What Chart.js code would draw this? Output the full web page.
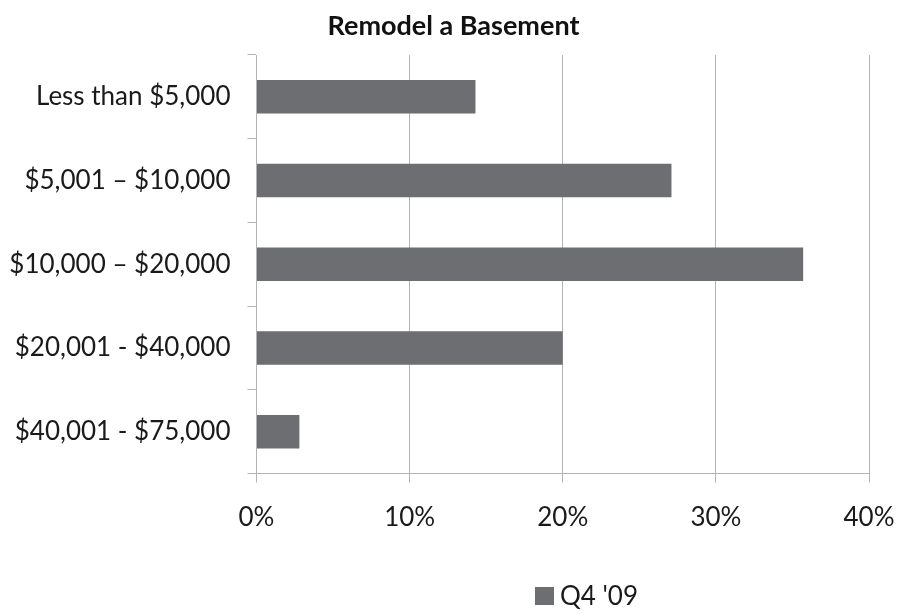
<!DOCTYPE html>
<html>
<head>
<meta charset="utf-8">
<script src="https://cdn.jsdelivr.net/npm/chart.js@4"></script>
<style>
html,body{margin:0;padding:0;background:#fff;}
#wrap{width:897px;height:615px;position:relative;}
</style>
</head>
<body>
<div id="wrap"><canvas id="c" width="897" height="615"></canvas></div>
<script>
const chartTitle = "Remodel a Basement";
const categories = ["Less than $5,000", "$5,001 \u2013 $10,000", "$10,000 \u2013 $20,000", "$20,001 - $40,000", "$40,001 - $75,000"];
const seriesName = "Q4 '09";
const seriesValues = [14.3, 27.1, 35.7, 20.0, 2.8];
const xTickValues = [0, 10, 20, 30, 40];
const xTickLabels = ["0%", "10%", "20%", "30%", "40%"];

const FONT = "Lato, 'Open Sans', sans-serif";
const BAR = "#6d6e71";

const overlay = {
  id: 'overlay',
  afterDraw(chart) {
    const ctx = chart.ctx;
    ctx.save();
    ctx.fillStyle = '#111';
    ctx.font = "bold 27px " + FONT;
    ctx.textAlign = 'center';
    ctx.textBaseline = 'middle';
    ctx.fillText(chartTitle, 453.5, 26);
    const ds = chart.data.datasets[0];
    ctx.fillStyle = ds.backgroundColor;
    ctx.fillRect(535, 587, 19, 18);
    ctx.fillStyle = '#1a1a1a';
    ctx.font = "26px " + FONT;
    ctx.textAlign = 'left';
    ctx.fillText(ds.label, 560, 597);
    ctx.restore();
  }
};

new Chart(document.getElementById('c'), {
  type: 'bar',
  data: {
    labels: categories,
    datasets: [{
      label: seriesName,
      data: seriesValues,
      backgroundColor: BAR,
      borderWidth: 0,
      barPercentage: 0.5,
      categoryPercentage: 0.8
    }]
  },
  options: {
    indexAxis: 'y',
    responsive: false,
    animation: false,
    devicePixelRatio: 1,
    layout: { padding: { top: 55, right: 28, bottom: 0, left: 0 } },
    plugins: { legend: { display: false }, title: { display: false }, tooltip: { enabled: false } },
    scales: {
      x: {
        min: 0, max: 40,
        afterBuildTicks(scale) { scale.ticks = xTickValues.map(v => ({ value: v })); },
        afterFit(scale) { scale.height = 141.5; scale.paddingLeft = 0; scale.paddingRight = 0; },
        ticks: {
          callback: (v, i) => xTickLabels[i],
          font: { family: FONT, size: 26 },
          color: '#1a1a1a',
          padding: 20,
          maxRotation: 0
        },
        grid: { color: '#b3b3b3', lineWidth: 1, tickLength: 9, drawTicks: true },
        border: { display: true, color: '#b3b3b3', width: 1 }
      },
      y: {
        afterFit(scale) { scale.width = 256.5; scale.paddingTop = 0; scale.paddingBottom = 0; },
        ticks: {
          font: { family: FONT, size: 26 },
          color: '#1a1a1a',
          padding: 17
        },
        grid: { offset: true, drawOnChartArea: false, drawTicks: true, tickLength: 9, color: '#b3b3b3' },
        border: { display: true, color: '#b3b3b3', width: 1 }
      }
    }
  },
  plugins: [overlay]
});
</script>
</body>
</html>
